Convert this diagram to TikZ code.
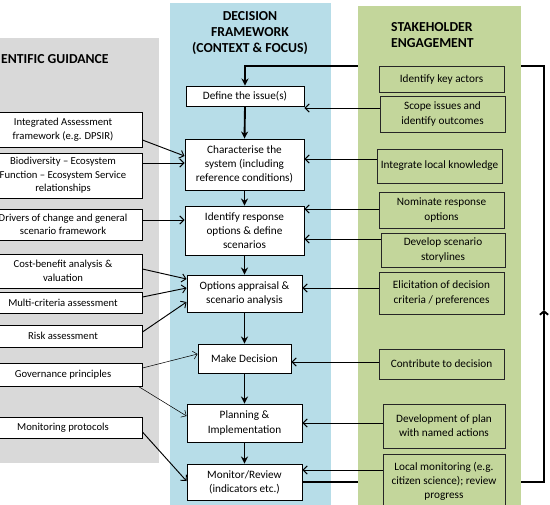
\documentclass[tikz,border=0pt]{standalone}
\usepackage{fontspec}
\setmainfont{Carlito}
\usetikzlibrary{arrows.meta}
\definecolor{panelgray}{HTML}{D9D9D9}
\definecolor{panelblue}{HTML}{B7DDE8}
\definecolor{panelgreen}{HTML}{C3D69B}
\pgfdeclarelayer{panels}
\pgfdeclarelayer{loopline}
\pgfdeclarelayer{greenpanel}
\pgfsetlayers{panels,loopline,greenpanel,main}

\begin{document}
\begin{tikzpicture}[x=0.3mm, y=-0.3mm,
    every node/.style={font=\fontsize{9.6}{12}\selectfont},
    wh/.style 2 args={minimum width=#1*0.3mm, minimum height=#2*0.3mm},
    title/.style={font=\fontsize{11.7}{13.8}\selectfont\bfseries, inner sep=0pt},
    cbox/.style={draw, fill=white, line width=0.8pt, inner sep=0pt, align=center},
    lbox/.style={draw, fill=white, line width=0.8pt, inner sep=0pt, align=center, wh={158}{#1},
      font=\fontsize{9.1}{11.6}\selectfont},
    gbox/.style={draw=black!85, fill=panelgreen, line width=0.8pt, inner sep=0pt, align=center},
    flow/.style={line width=1.6pt, -{Stealth[length=6pt,width=6pt]}},
    side/.style={line width=0.8pt, -{Straight Barb[length=3.5pt,width=7pt]}},
    faint/.style={line width=0.45pt, -{Straight Barb[length=3.5pt,width=7pt]}}]
    \useasboundingbox (0,0) rectangle (550,504);
    % Background panels
    \begin{pgfonlayer}{panels}
      \fill[panelgray] (-5,38) rectangle (159,463);
      \fill[panelblue] (170,3) rectangle (331,510);
    \end{pgfonlayer}
    \begin{pgfonlayer}{greenpanel}
      \fill[panelgreen] (358,6) rectangle (521,510);
    \end{pgfonlayer}
    % Panel titles
    \node[title, anchor=west] (tsci) at (1,59) {ENTIFIC GUIDANCE};
    \node[title, align=center] (tdec) at (250,33) {DECISION\\FRAMEWORK\\(CONTEXT \& FOCUS)};
    \node[title, align=left, anchor=west] (tsta) at (391,35) {STAKEHOLDER\\ENGAGEMENT};
    % Decision framework steps
    \node[cbox, wh={118}{20}] (define) at (245,96) {Define the issue(s)};
    \node[cbox, wh={119}{51}] (charact) at (244.5,164.5) {Characterise the\\system (including\\reference conditions)};
    \node[cbox, wh={119}{49}] (respond) at (244.5,230.5) {Identify response\\options \& define\\scenarios};
    \node[cbox, wh={115}{37}] (options) at (244.5,293.5) {Options appraisal \&\\scenario analysis};
    \node[cbox, wh={93}{29}] (decision) at (244.5,358.5) {Make Decision};
    \node[cbox, wh={115}{38}] (planning) at (244.5,423) {Planning \&\\Implementation};
    \node[cbox, wh={115}{36}] (monitor) at (244.5,482) {Monitor/Review\\(indicators etc.)};
    % Scientific guidance
    \node[lbox=35] (iaf) at (63,129.5) {Integrated Assessment\\framework (e.g. DPSIR)};
    \node[lbox=45] (befes) at (63,175.5) {Biodiversity -- Ecosystem\\Function -- Ecosystem Service\\relationships};
    \node[lbox=31] (drivers) at (63,224.5) {Drivers of change and general\\scenario framework};
    \node[lbox=34] (cba) at (63,271) {Cost-benefit analysis \&\\valuation};
    \node[lbox=21] (mca) at (63,302.5) {Multi-criteria assessment};
    \node[lbox=22] (risk) at (63,336) {Risk assessment};
    \node[lbox=23] (govern) at (63,374.5) {Governance principles};
    \node[lbox=21] (monprot) at (63,427.5) {Monitoring protocols};
    % Stakeholder engagement
    \node[gbox, wh={125}{26}] (actors) at (441.5,79) {Identify key actors};
    \node[gbox, wh={125}{36}] (scope) at (442.5,114) {Scope issues and\\identify outcomes};
    \node[gbox, wh={125}{34}] (local) at (439.5,166) {Integrate local knowledge};
    \node[gbox, wh={125}{36}] (nominate) at (441.5,210) {Nominate response\\options};
    \node[gbox, wh={124}{34}] (storyl) at (443,250) {Develop scenario\\storylines};
    \node[gbox, wh={125}{42}] (elicit) at (441.5,293) {Elicitation of decision\\criteria / preferences};
    \node[gbox, wh={125}{30}] (contrib) at (441.5,364) {Contribute to decision};
    \node[gbox, wh={122}{44}] (plan) at (444,426) {Development of plan\\with named actions};
    \node[gbox, wh={122}{54}] (localmon) at (444,481) {Local monitoring (e.g.\\citizen science); review\\progress};
    % Main sequence
    \draw[flow] (define.south) -- (charact.north);
    \draw[flow] (charact.south) -- (respond.north);
    \draw[flow] (respond.south) -- (options.north);
    \draw[flow] (options.south) -- (decision.north);
    \draw[flow] (decision.south) -- (planning.north);
    \draw[flow] (planning.south) -- (monitor.north);
    % Feedback loop, behind the green panel
    \coordinate (loopM) at (544,310);
    \coordinate (loopR) at (544,66);
    \begin{pgfonlayer}{loopline}
      \draw[line width=1.6pt, -{Straight Barb[length=3pt,width=7pt]}] (monitor.east) -| (loopM);
      \draw[flow] (loopM) -- (loopR) -| (define.north);
    \end{pgfonlayer}
    % Guidance into the framework
    \draw[side] (iaf.east |- 0,140) -- (charact.west |- 0,156);
    \draw[side] (befes.east |- 0,163) -- (charact.west |- 0,163);
    \draw[side] (drivers.east |- 0,220) -- (respond.west |- 0,220);
    \draw[side] (cba.east |- 0,269) -- (options.west |- 0,279);
    \draw[side] (mca.east |- 0,297) -- (options.west |- 0,288);
    \draw[side] (risk.east |- 0,332) -- (options.west |- 0,302);
    \draw[faint] (govern.east |- 0,368) -- (decision.west |- 0,354);
    \draw[faint] (govern.south east) ++(-4,0) -- (planning.west |- 0,416);
    \draw[side] (monprot.east |- 0,432) -- (monitor.west |- 0,481);
    % Stakeholders into the framework
    \draw[side] (scope.west |- 0,108) -- (define.east |- 0,108);
    \draw[side] (local.west |- 0,159) -- (charact.east |- 0,159);
    \draw[side] (nominate.west |- 0,209) -- (respond.east |- 0,209);
    \draw[side] (storyl.west |- 0,239) -- (respond.east |- 0,239);
    \draw[side] (elicit.west |- 0,288) -- (options.east |- 0,288);
    \draw[side] (contrib.west |- 0,362) -- (decision.east |- 0,362);
    \draw[side] (plan.west |- 0,423) -- (planning.east |- 0,423);
    \draw[side] (localmon.west |- 0,470) -- (monitor.east |- 0,470);
\end{tikzpicture}
\end{document}
